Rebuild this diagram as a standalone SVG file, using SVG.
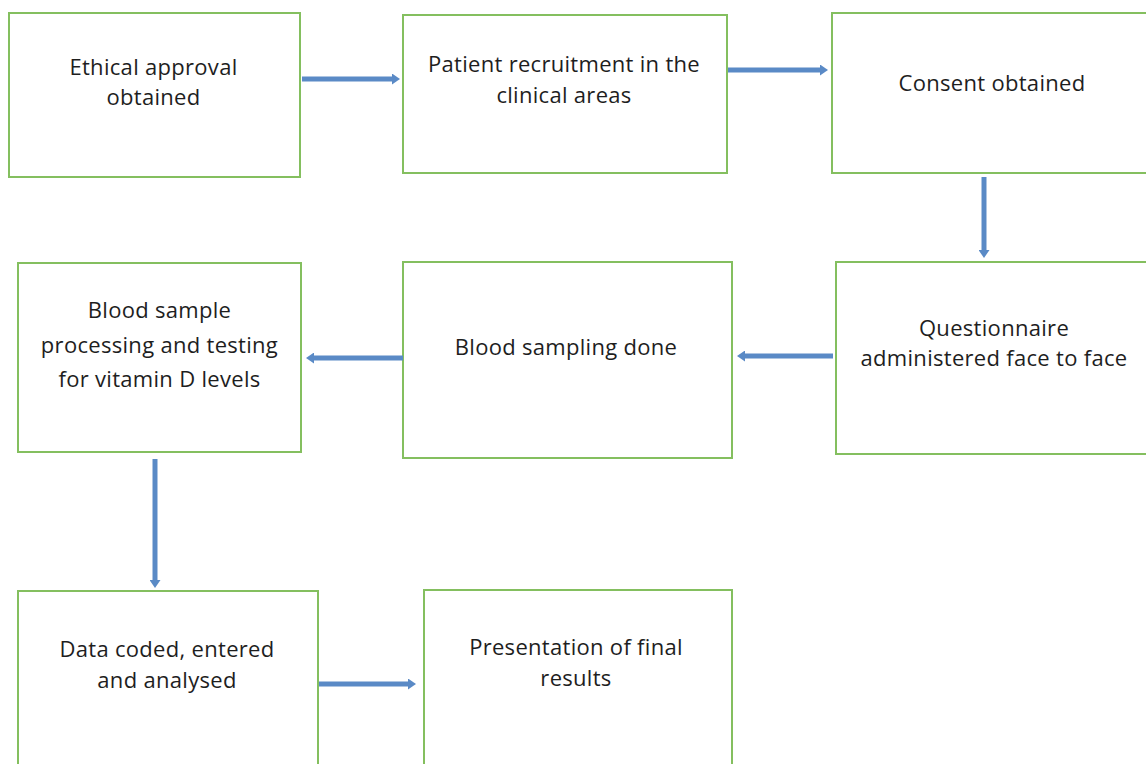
<svg xmlns="http://www.w3.org/2000/svg" width="1146" height="764" viewBox="0 0 1146 764">
<style>
.box{fill:#ffffff;stroke:#84BF5F;stroke-width:2}
.t{font-family:"Open Sans","Noto Sans",sans-serif;font-size:22px;letter-spacing:0.3px;fill:#1e1e1e;text-anchor:middle}
.c{stroke:#5A8AC6;stroke-width:5;fill:none}
</style>
<defs>
<marker id="ah" markerUnits="userSpaceOnUse" markerWidth="10" markerHeight="11" refX="2" refY="5.5" orient="auto">
<path d="M0,0 L8,5.5 L0,11 z" fill="#5A8AC6"/>
</marker>
</defs>
<rect width="1146" height="764" fill="#ffffff"/>
<g id="n1"><rect class="box" x="9" y="13" width="291" height="164"/><text class="t" x="153.5" y="75">Ethical approval</text><text class="t" x="153.5" y="105">obtained</text></g>
<g id="n2"><rect class="box" x="403" y="15" width="324" height="158"/><text class="t" x="564" y="72">Patient recruitment in the</text><text class="t" x="564" y="103">clinical areas</text></g>
<g id="n3"><rect class="box" x="832" y="13" width="330" height="160"/><text class="t" x="992" y="91">Consent obtained</text></g>
<g id="n4"><rect class="box" x="836" y="262" width="326" height="192"/><text class="t" x="994" y="336">Questionnaire</text><text class="t" x="994" y="366">administered face to face</text></g>
<g id="n5"><rect class="box" x="403" y="262" width="329" height="196"/><text class="t" x="566" y="355">Blood sampling done</text></g>
<g id="n6"><rect class="box" x="18" y="263" width="283" height="189"/><text class="t" x="159.5" y="318">Blood sample</text><text class="t" x="159.5" y="353">processing and testing</text><text class="t" x="159.5" y="387">for vitamin D levels</text></g>
<g id="n7"><rect class="box" x="18" y="591" width="300" height="190"/><text class="t" x="167" y="657">Data coded, entered</text><text class="t" x="167" y="688">and analysed</text></g>
<g id="n8"><rect class="box" x="424" y="590" width="308" height="190"/><text class="t" x="576" y="655">Presentation of final</text><text class="t" x="576" y="686">results</text></g>
<g id="connectors">
<line class="c" x1="302" y1="79" x2="394" y2="79" marker-end="url(#ah)"/>
<line class="c" x1="728" y1="70" x2="822" y2="70" marker-end="url(#ah)"/>
<line class="c" x1="984" y1="177" x2="984" y2="252" marker-end="url(#ah)"/>
<line class="c" x1="833" y1="356" x2="743" y2="356" marker-end="url(#ah)"/>
<line class="c" x1="403" y1="358" x2="312" y2="358" marker-end="url(#ah)"/>
<line class="c" x1="155" y1="459" x2="155" y2="582" marker-end="url(#ah)"/>
<line class="c" x1="319" y1="684" x2="410" y2="684" marker-end="url(#ah)"/>
</g>
</svg>
